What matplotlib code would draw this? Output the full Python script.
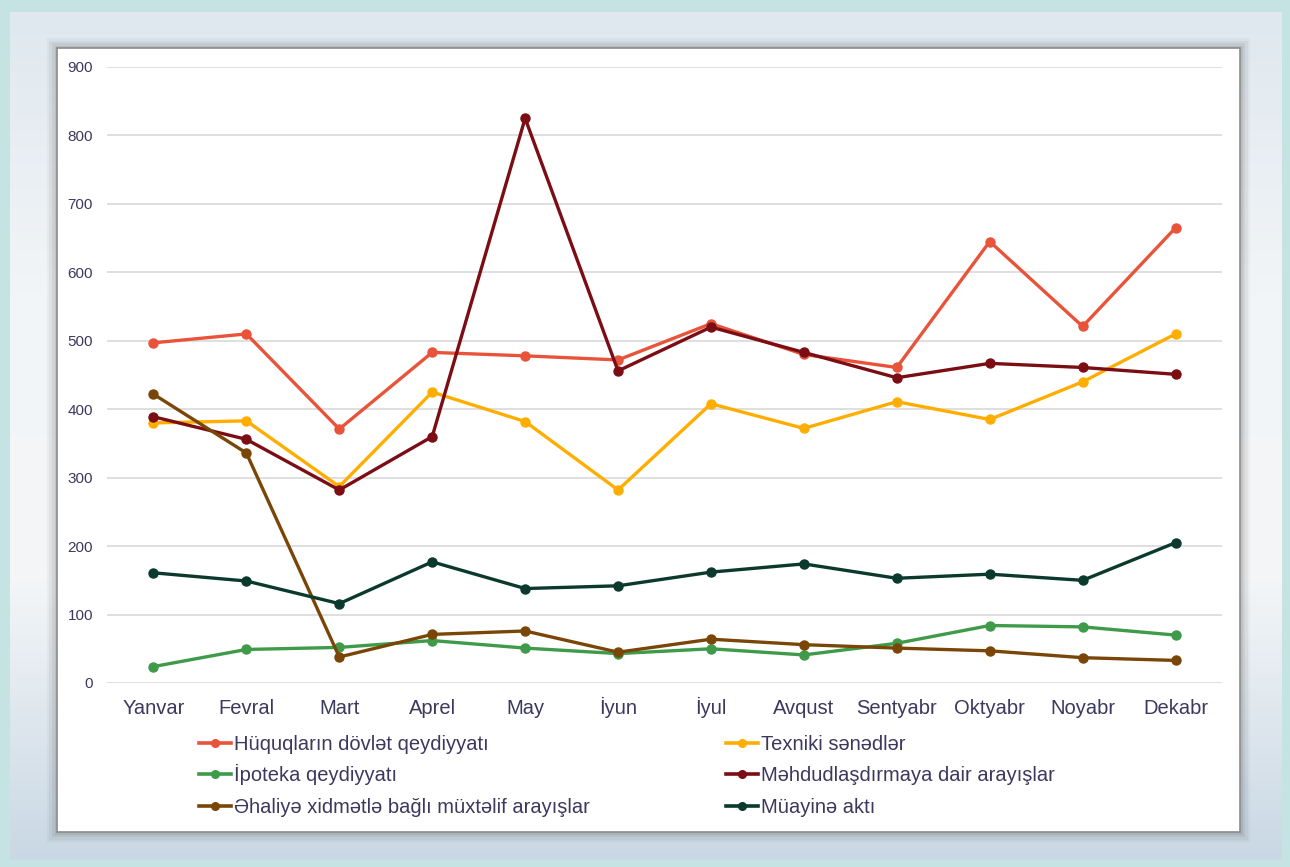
import numpy as np
import matplotlib
matplotlib.use('Agg')
import matplotlib.pyplot as plt
from matplotlib.patches import Rectangle
from matplotlib.lines import Line2D

plt.rcParams['font.family'] = ['Liberation Sans', 'DejaVu Sans']

months = ["Yanvar", "Fevral", "Mart", "Aprel", "May", "İyun",
          "İyul", "Avqust", "Sentyabr", "Oktyabr", "Noyabr", "Dekabr"]

huquq = [497, 510, 371, 483, 478, 472, 525, 480, 461, 645, 521, 665]
texniki = [380, 383, 287, 425, 382, 282, 408, 372, 411, 385, 440, 510]
ipoteka = [24, 49, 52, 62, 51, 43, 50, 41, 58, 84, 82, 70]
mehdud = [389, 356, 282, 360, 825, 456, 520, 483, 446, 467, 461, 451]
ehali = [422, 336, 38, 71, 76, 45, 64, 56, 51, 47, 37, 33]
muayine = [161, 149, 116, 177, 138, 142, 162, 174, 153, 159, 150, 205]

series = [
    ("Hüquqların dövlət qeydiyyatı", huquq, "#e8533a"),
    ("Texniki sənədlər", texniki, "#ffae00"),
    ("İpoteka qeydiyyatı", ipoteka, "#3f9a4a"),
    ("Məhdudlaşdırmaya dair arayışlar", mehdud, "#7b0d14"),
    ("Əhaliyə xidmətlə bağlı müxtəlif arayışlar", ehali, "#7a4608"),
    ("Müayinə aktı", muayine, "#0b3a2d"),
]

TEXT = "#3c385e"
W, H = 1290, 867
fig = plt.figure(figsize=(W / 100, H / 100), dpi=100)
fig.patch.set_facecolor("#c4e3e2")

# --- backdrop panel with a soft gradient ---
bg = fig.add_axes([10 / W, 1 - 860 / H, (1282 - 10) / W, (860 - 12) / H])
grad = np.linspace(0, 1, 256).reshape(-1, 1)
bg.imshow(grad, aspect='auto', cmap=matplotlib.colors.LinearSegmentedColormap.from_list(
    "bgc", ["#dfe8ef", "#f2f5f7", "#f4f6f8", "#c9d8e4"]), extent=[0, 1, 0, 1])
bg.axis('off')

# --- white card with shadow ---
cx0, cy0, cx1, cy1 = 57 / W, 1 - 832 / H, 1240 / W, 1 - 48 / H
for i, a in enumerate([0.05, 0.07, 0.09, 0.12]):
    d = (4 - i) * 2.5
    fig.patches.append(Rectangle((cx0 - d / W, cy0 - d / H), cx1 - cx0 + 2 * d / W, cy1 - cy0 + 2 * d / H,
                                 transform=fig.transFigure, facecolor="#555555", alpha=a,
                                 edgecolor='none', zorder=1))
fig.patches.append(Rectangle((cx0, cy0), cx1 - cx0, cy1 - cy0, transform=fig.transFigure,
                             facecolor="white", edgecolor="#8c8c8c", linewidth=1.2, zorder=2))

# --- chart ---
ax = fig.add_axes([107 / W, 1 - 683 / H, (1222 - 107) / W, (683 - 67) / H], zorder=3)
ax.set_facecolor('none')
x = np.arange(len(months))
for name, vals, col in series:
    ax.plot(x, vals, color=col, linewidth=2.4, marker='o', markersize=6.5, zorder=3)

ax.set_xlim(-0.5, 11.5)
ax.set_ylim(0, 900)
ax.set_yticks(range(0, 901, 100))
ax.set_xticks(x)
ax.set_xticklabels(months, fontsize=14.5, color=TEXT)
for lab in ax.get_xticklabels():
    lab.set_verticalalignment('baseline')  # keep "İ" labels on the same line
ax.tick_params(axis='y', labelsize=11, colors=TEXT, length=0, pad=10)
ax.tick_params(axis='x', length=0, pad=22)
ax.grid(axis='y', color="#d9d9d9", linewidth=1.2)
ax.set_axisbelow(True)
for s in ax.spines.values():
    s.set_visible(False)

# legend laid out by hand so both columns share row heights
col_x = [199, 726]
row_y = [743, 774, 806]
for i, (name, vals, col) in enumerate(series):
    lx = col_x[i % 2]
    ly = 1 - row_y[i // 2] / H
    fig.add_artist(Line2D([lx / W, (lx + 32) / W], [ly, ly], color=col, linewidth=2.6, zorder=5))
    fig.add_artist(Line2D([(lx + 16) / W], [ly], color=col, marker='o', markersize=5.5, zorder=5))
    fig.text((lx + 35) / W, ly - 7 / H, name, fontsize=14.5, color=TEXT,
             va='baseline', ha='left', zorder=5)

fig.savefig("out.png", dpi=100, facecolor=fig.get_facecolor())
